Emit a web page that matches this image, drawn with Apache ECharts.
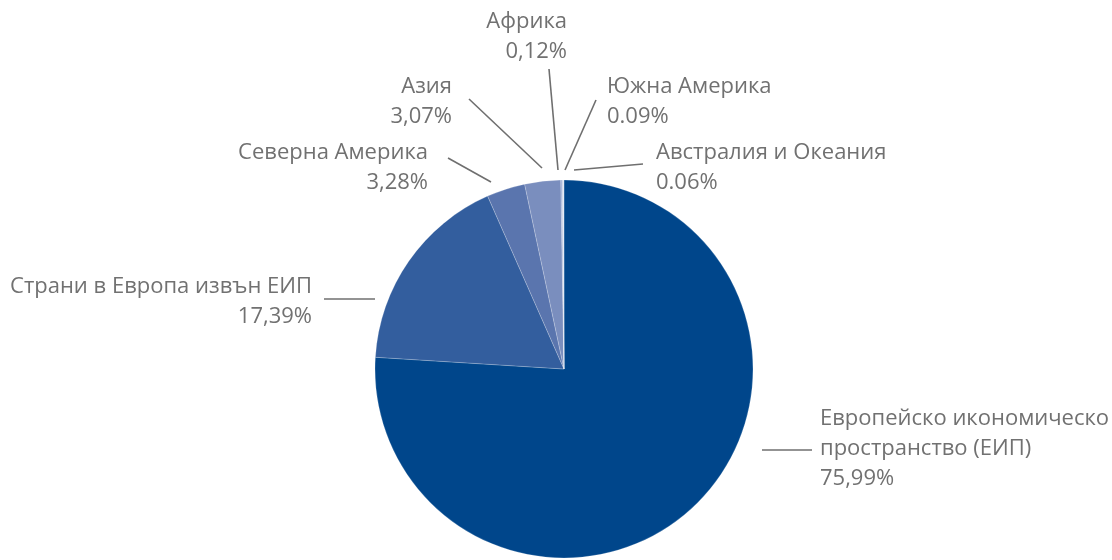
<!DOCTYPE html>
<html>
<head>
<meta charset="utf-8">
<script src="https://cdn.jsdelivr.net/npm/echarts@6/dist/echarts.min.js"></script>
<style>html,body{margin:0;padding:0;background:#fff}#c{width:1112px;height:560px}</style>
</head>
<body>
<div id="c"></div>
<script>
const categories = ['Европейско икономическо\nпространство (ЕИП)', 'Страни в Европа извън ЕИП', 'Северна Америка', 'Азия', 'Африка', 'Южна Америка', 'Австралия и Океания'];
const values = [75.99, 17.39, 3.28, 3.07, 0.12, 0.09, 0.06];
const valueLabels = ['75,99%', '17,39%', '3,28%', '3,07%', '0,12%', '0.09%', '0.06%'];
const colors = ['#00468b', '#335e9e', '#5a75ae', '#7a8ebe', '#9dadd3', '#bcc7e2', '#d6deef'];

// label placement: [x, y, align, line points]
const labelPlaces = [
  [820, 449, 'left', [[762, 450], [812, 450]]],
  [312, 302, 'right', [[324, 299], [375, 299]]],
  [428, 168, 'right', [[448, 158], [491, 182]]],
  [452, 102, 'right', [[469, 99], [542, 168]]],
  [567, 37, 'right', [[549, 69], [558, 170]]],
  [607, 102, 'left', [[596, 100], [565, 170]]],
  [656, 168, 'left', [[643, 164], [574, 170]]]
];

const chart = echarts.init(document.getElementById('c'));
chart.setOption({
  animation: false,
  series: [{
    type: 'pie',
    center: [564, 369],
    radius: 189,
    startAngle: 90,
    clockwise: true,
    avoidLabelOverlap: false,
    data: categories.map((c, i) => ({ name: c, value: values[i], itemStyle: { color: colors[i] } })),
    itemStyle: { borderColor: 'rgba(255,255,255,0.5)', borderWidth: 0.4 },
    label: {
      show: true,
      position: 'outside',
      formatter: p => p.name + '\n' + valueLabels[p.dataIndex],
      color: '#717171',
      fontFamily: 'Open Sans',
      fontSize: 22,
      lineHeight: 30
    },
    labelLine: { show: true, lineStyle: { color: '#6f6f6f', width: 1.6 } },
    labelLayout: function (params) {
      const p = labelPlaces[params.dataIndex];
      return {
        x: p[0], y: p[1], align: p[2], verticalAlign: 'middle',
        labelLinePoints: p[3]
      };
    }
  }]
});
</script>
</body>
</html>
